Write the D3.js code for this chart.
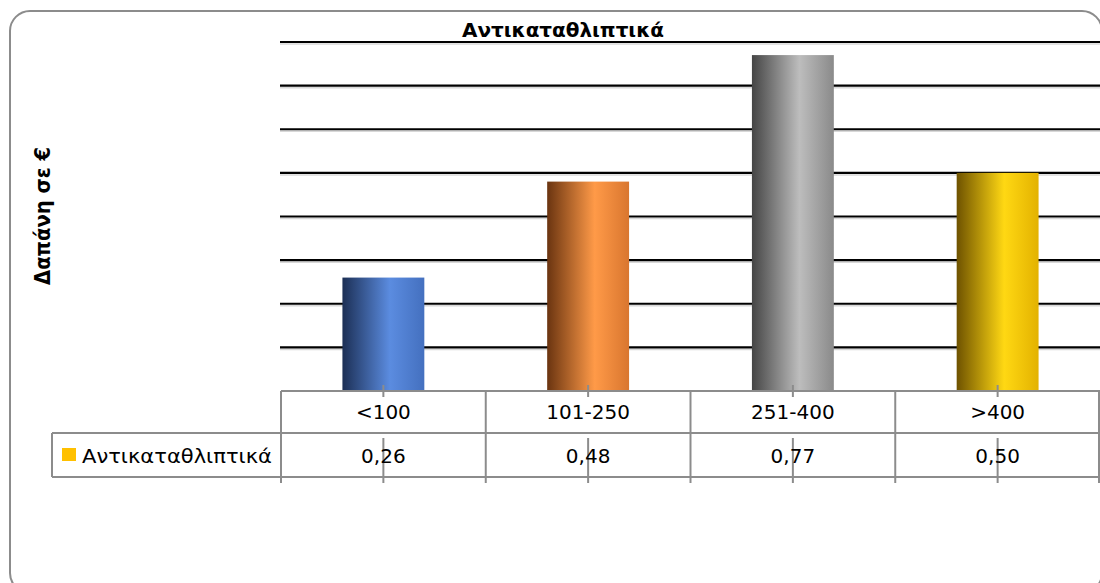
<!DOCTYPE html>
<html>
<head>
<meta charset="utf-8">
<script src="https://cdn.jsdelivr.net/npm/d3@7"></script>
<style>
  body { margin: 0; background: #fff; }
  svg { display: block; }
</style>
</head>
<body>
<svg id="chart"></svg>
<script>
// DATA
const categories = ["<100", "101-250", "251-400", ">400"];
const values = [0.26, 0.48, 0.77, 0.50];
const valueLabels = ["0,26", "0,48", "0,77", "0,50"];
const seriesName = "Αντικαταθλιπτικά";
const chartTitle = "Αντικαταθλιπτικά";
const yTitle = "Δαπάνη σε €";
const yTicks = [0, 0.1, 0.2, 0.3, 0.4, 0.5, 0.6, 0.7, 0.8];
// bar colour stops: dark edge, highlight, right edge
const barColors = [
  ["#1c2f55", "#5b8ce0", "#4470bf"],
  ["#6a3410", "#ff9a48", "#d9762f"],
  ["#454545", "#bdbdbd", "#8a8a8a"],
  ["#6e5200", "#ffd813", "#e3b200"]
];

const W = 1100, H = 583;
const svg = d3.select("#chart").attr("width", W).attr("height", H);
const font = "'DejaVu Sans', 'Liberation Sans', sans-serif";

// outer frame (rounded, runs off the right and bottom)
svg.append("rect")
  .attr("x", 10).attr("y", 11)
  .attr("width", 1092).attr("height", 582)
  .attr("rx", 20).attr("ry", 20)
  .attr("fill", "none")
  .attr("stroke", "#8c8c8c")
  .attr("stroke-width", 2);

// scales
const plotLeft = 281, plotRight = 1100, baseY = 391, topY = 42;
const x = d3.scaleBand().domain(categories).range([plotLeft, plotRight]).padding(0);
const y = d3.scaleLinear().domain([0, 0.8]).range([baseY, topY]);
const barW = x.bandwidth() * 0.4;

// gridlines
const grid = svg.append("g");
grid.selectAll("line.shadow")
  .data(yTicks.slice(1))
  .enter().append("line")
  .attr("class", "shadow")
  .attr("x1", plotLeft - 1).attr("x2", plotRight)
  .attr("y1", d => y(d) + 2).attr("y2", d => y(d) + 2)
  .attr("stroke", "#d8d8d8").attr("stroke-width", 1.5);
grid.selectAll("line.major")
  .data(yTicks.slice(1))
  .enter().append("line")
  .attr("class", "major")
  .attr("x1", plotLeft - 1).attr("x2", plotRight)
  .attr("y1", d => y(d)).attr("y2", d => y(d))
  .attr("stroke", "#000").attr("stroke-width", 2.2);

// gradients
const defs = svg.append("defs");
barColors.forEach((c, i) => {
  const g = defs.append("linearGradient")
    .attr("id", "grad" + i)
    .attr("x1", "0%").attr("x2", "100%").attr("y1", "0%").attr("y2", "0%");
  g.append("stop").attr("offset", "0%").attr("stop-color", c[0]);
  g.append("stop").attr("offset", "58%").attr("stop-color", c[1]);
  g.append("stop").attr("offset", "100%").attr("stop-color", c[2]);
});

// bars
svg.selectAll("rect.bar")
  .data(values)
  .enter().append("rect")
  .attr("class", "bar")
  .attr("x", (d, i) => x(categories[i]) + (x.bandwidth() - barW) / 2)
  .attr("y", d => y(d))
  .attr("width", barW)
  .attr("height", d => baseY - y(d))
  .attr("fill", (d, i) => `url(#grad${i})`);

// data table
const row1Top = baseY, row1Bot = 433, row2Bot = 477, legendLeft = 52;
const tableColor = "#8c8c8c";
const table = svg.append("g").attr("stroke", tableColor).attr("stroke-width", 2);

table.append("line").attr("x1", plotLeft).attr("x2", plotRight).attr("y1", row1Top).attr("y2", row1Top);
table.append("line").attr("x1", legendLeft).attr("x2", plotRight).attr("y1", row1Bot).attr("y2", row1Bot);
table.append("line").attr("x1", legendLeft).attr("x2", plotRight).attr("y1", row2Bot).attr("y2", row2Bot);
table.append("line").attr("x1", legendLeft).attr("x2", legendLeft).attr("y1", row1Bot).attr("y2", row2Bot);

const edges = categories.map(c => x(c)).concat([plotRight - 1]);
table.selectAll("line.col")
  .data(edges)
  .enter().append("line")
  .attr("class", "col")
  .attr("x1", d => d).attr("x2", d => d)
  .attr("y1", row1Top).attr("y2", row2Bot + 6);

// category tick marks
table.selectAll("line.tickTop")
  .data(categories)
  .enter().append("line")
  .attr("x1", d => x(d) + x.bandwidth() / 2).attr("x2", d => x(d) + x.bandwidth() / 2)
  .attr("y1", row1Top - 6).attr("y2", row1Top + 6);
table.selectAll("line.tickBot")
  .data(categories)
  .enter().append("line")
  .attr("x1", d => x(d) + x.bandwidth() / 2).attr("x2", d => x(d) + x.bandwidth() / 2)
  .attr("y1", row1Bot + 5).attr("y2", row2Bot + 6);

// category labels
svg.selectAll("text.cat")
  .data(categories)
  .enter().append("text")
  .attr("x", d => x(d) + x.bandwidth() / 2)
  .attr("y", 419)
  .attr("text-anchor", "middle")
  .attr("font-family", font)
  .attr("font-size", 20)
  .text(d => d);

// value labels
svg.selectAll("text.val")
  .data(valueLabels)
  .enter().append("text")
  .attr("x", (d, i) => x(categories[i]) + x.bandwidth() / 2)
  .attr("y", 463)
  .attr("text-anchor", "middle")
  .attr("font-family", font)
  .attr("font-size", 20)
  .text(d => d);

// legend key + series name
svg.append("rect")
  .attr("x", 62).attr("y", 448)
  .attr("width", 14).attr("height", 13)
  .attr("fill", "#ffc000");
svg.append("text")
  .attr("x", 82).attr("y", 463)
  .attr("font-family", font)
  .attr("font-size", 20)
  .attr("textLength", 190)
  .attr("lengthAdjust", "spacingAndGlyphs")
  .text(seriesName);

// title
svg.append("text")
  .attr("x", 462).attr("y", 37)
  .attr("font-family", font)
  .attr("font-weight", "bold")
  .attr("font-size", 20)
  .attr("textLength", 202)
  .attr("lengthAdjust", "spacingAndGlyphs")
  .text(chartTitle);

// y axis title
svg.append("text")
  .attr("transform", "translate(50,285) rotate(-90)")
  .attr("font-family", font)
  .attr("font-weight", "bold")
  .attr("font-size", 21)
  .attr("textLength", 138)
  .attr("lengthAdjust", "spacingAndGlyphs")
  .text(yTitle);
</script>
</body>
</html>
